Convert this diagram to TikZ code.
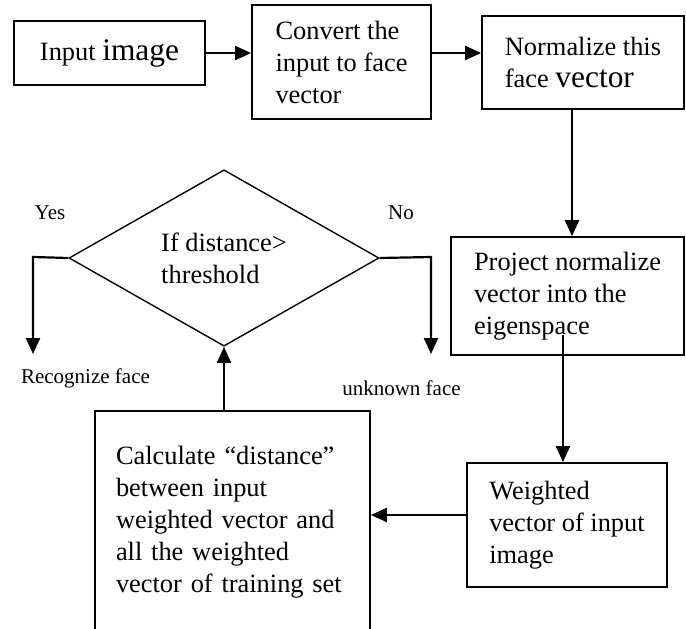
\documentclass[tikz,border=0pt]{standalone}
\usepackage{fontspec}
\setmainfont{Liberation Serif}
\usetikzlibrary{arrows.meta,shapes.geometric,calc}
\begin{document}
\begin{tikzpicture}[x=1pt,y=-1pt,
  box/.style={draw,line width=1.8pt,rectangle,inner sep=0pt,align=left,font=\fontsize{26.4}{32}\selectfont},
  arr/.style={line width=2.2pt,-{Triangle[length=16pt,width=14pt]}},
  lbl/.style={font=\fontsize{21}{25}\selectfont,inner sep=0pt}]
\path[use as bounding box] (0,0) rectangle (686,629);
\clip (0,0) rectangle (686,629);
\node[box,minimum width=191pt,minimum height=64pt] (b1) at (109.5,53) {Input {\fontsize{31.4}{32}\selectfont image}};
\node[box,minimum width=179pt,minimum height=114pt] (b2) at (341.5,62) {Convert the\\input to face\\vector};
\node[box,minimum width=202pt,minimum height=93pt] (b3) at (583,62.5) {Normalize this\\face {\fontsize{31.4}{32}\selectfont vector}};
\node[box,minimum width=233pt,minimum height=118pt] (b4) at (567.5,296) {Project normalize\\vector into the\\eigenspace};
\node[box,minimum width=200pt,minimum height=124pt] (b5) at (567,525) {Weighted\\vector of input\\image};
\node[box,text width=233pt,inner xsep=21pt,minimum height=222pt] (calc) at (232.5,522) {Calculate “distance”\\between input\\weighted vector and\\all the weighted\\vector of training set};
\node[draw,shape=diamond,line width=1.4pt,minimum width=310pt,minimum height=170pt,inner sep=0pt,align=left,font=\fontsize{26.4}{32}\selectfont] (dia) at (224,258) {If distance>\\threshold};

\draw[arr] (b1.east) -- (b1.east -| b2.west);
\draw[arr] ([yshift=9pt]b2.east) -- ([yshift=9pt]b2.east -| b3.west);
\draw[arr] ([xshift=-11pt]b3.south) -- ([xshift=-11pt]b3.south |- b4.north);
\coordinate (p4) at ($(b4.center)+(-4.5,39)$);
\draw[arr] (p4) -- (p4 |- b5.north);
\draw[arr] ([yshift=10pt]b5.west) -- ([yshift=10pt]b5.west -| calc.east);
\draw[arr] (dia.south |- calc.north) -- (dia.south);

\coordinate (yc) at (33,257);
\coordinate (ye) at (33,354);
\draw[arr] (dia.west) -- (yc) -- (ye);
\coordinate (nc) at (431,257);
\coordinate (ne) at (431,354);
\draw[arr] (dia.east) -- (nc) -- (ne);

\node[lbl] (yes) at (50,213) {Yes};
\node[lbl] (no) at (401,213) {No};
\node[lbl] (rec) at (85.5,378) {Recognize face};
\node[lbl] (unk) at (401.5,388) {unknown face};
\end{tikzpicture}
\end{document}
